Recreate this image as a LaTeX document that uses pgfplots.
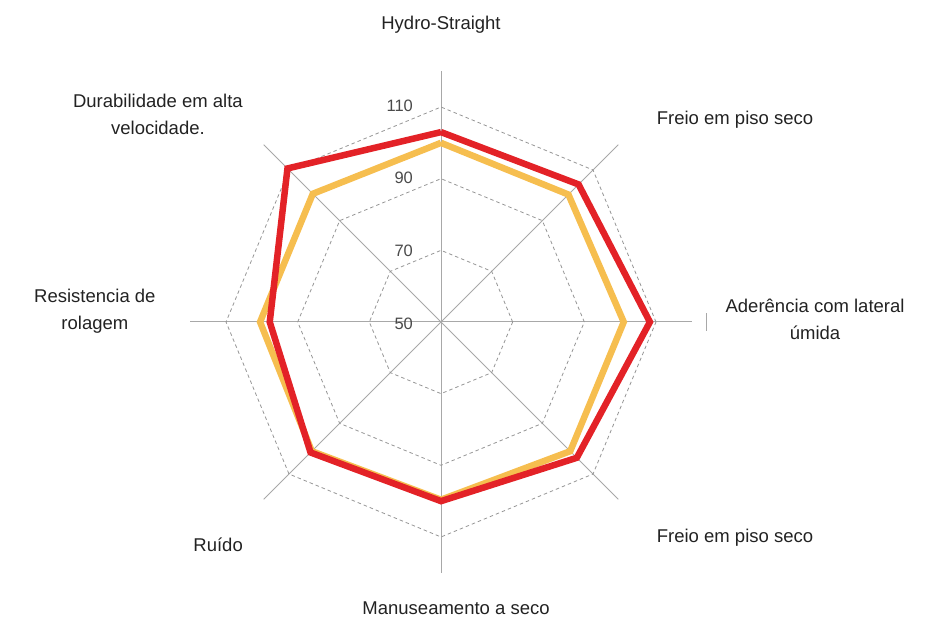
\documentclass[border=0pt]{standalone}
\usepackage{pgfplots}
\pgfplotsset{compat=1.18}
\usepackage{pgfplotstable}
\usepackage{fontspec}
\setmainfont{Liberation Sans}
\definecolor{redline}{HTML}{E32227}
\definecolor{yellowline}{HTML}{F6BE4F}
\definecolor{spoke}{HTML}{A8A8A8}
\definecolor{ring}{HTML}{959595}
\definecolor{lbl}{HTML}{222222}
\definecolor{tick}{HTML}{4A4A4A}

% angle (deg), value
\pgfplotstableread{
a v
90 100
45 100.3
0 101
-45 101
-90 99.6
-135 101
180 100.5
135 100.6
90 100
}\yellowdata
\pgfplotstableread{
a v
90 103
45 104.3
0 108.3
-45 103.6
-90 100
-135 101.5
180 97.8
135 110.6
90 103
}\reddata

\begin{document}
\begin{tikzpicture}
\begin{axis}[
  x=3.583bp, y=3.583bp,
  xmin=-123.08, xmax=140.66, ymin=-83.73, ymax=89.87,
  hide axis, clip=false,
  scale only axis,
]
\path (axis cs:-123.08,-83.73) rectangle (axis cs:140.66,89.87);
% spokes
\pgfplotsinvokeforeach{0,45,90,135,180,225,270,315}{
  \addplot[spoke, line width=1bp, data cs=polar, forget plot] coordinates {(#1,0) (#1,70)};
}
% rings at 70, 90, 110
\pgfplotsinvokeforeach{20,40,60}{
  \addplot[ring, line width=0.8bp, dash pattern=on 3.5bp off 3bp, data cs=polar, forget plot] coordinates {(0,#1) (45,#1) (90,#1) (135,#1) (180,#1) (225,#1) (270,#1) (315,#1) (360,#1)};
}
% data
\addplot[yellowline, line width=6.5bp, line join=miter, data cs=polar] table[x=a, y expr=\thisrow{v}-50] {\yellowdata};
\addplot[redline, line width=6.5bp, line join=miter, data cs=polar] table[x=a, y expr=\thisrow{v}-50] {\reddata};
% tick labels
\tikzset{tk/.style={anchor=east, text=tick, font=\fontsize{16.5bp}{19bp}\selectfont, inner sep=0pt}}
\node[tk] at (axis cs:-7.8,60.3) {110};
\node[tk] at (axis cs:-7.8,40.3) {90};
\node[tk] at (axis cs:-7.8,20.0) {70};
\node[tk] at (axis cs:-7.8,-0.6) {50};
% small mark at right
\draw[spoke, line width=1bp] (axis cs:74.0,-2.5) -- (axis cs:74.0,2.5);
% category labels
\tikzset{cat/.style={text=lbl, align=center, font=\fontsize{18.5bp}{27bp}\selectfont, inner sep=0pt}}
\node[cat] at (axis cs:0,82.9) {Hydro-Straight};
\node[cat] at (axis cs:82.05,56.4) {Freio em piso seco};
\node[cat] at (axis cs:104.4,0.7) {Aderência com lateral\\úmida};
\node[cat] at (axis cs:82.05,-60.3) {Freio em piso seco};
\node[cat] at (axis cs:4.2,-79.8) {Manuseamento a seco};
\node[cat] at (axis cs:-62.2,-62.2) {Ruído};
\node[cat] at (axis cs:-96.6,2.9) {Resistencia de\\rolagem};
\node[cat] at (axis cs:-79.0,57.9) {Durabilidade em alta\\velocidade.};
\end{axis}
\end{tikzpicture}
\end{document}
